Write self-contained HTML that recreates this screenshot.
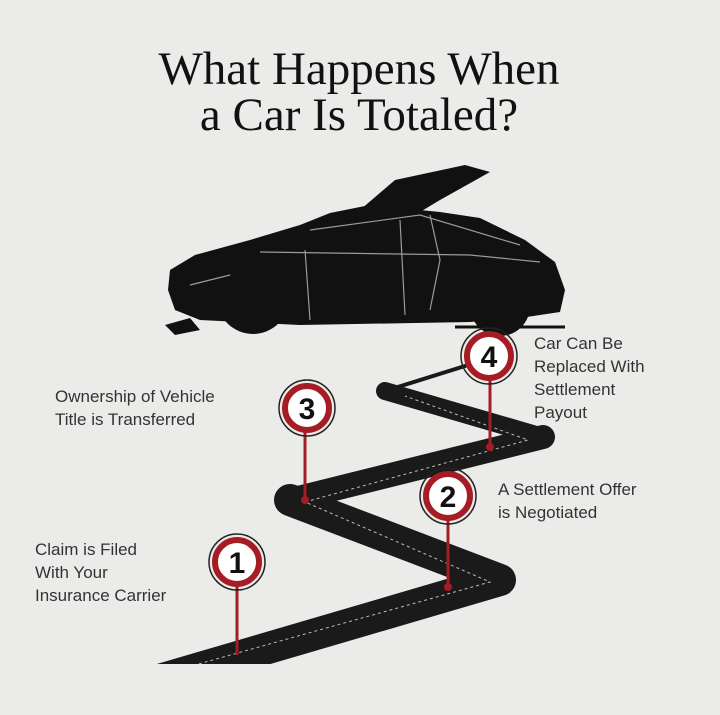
<!DOCTYPE html>
<html><head><meta charset="utf-8"><style>
html,body{margin:0;padding:0;background:#ebebea;}
svg{display:block}
</style></head><body>
<svg width="720" height="715" viewBox="0 0 720 715" xmlns="http://www.w3.org/2000/svg">
<defs><clipPath id="c"><rect x="0" y="0" width="720" height="664"/></clipPath></defs>
<rect width="720" height="715" fill="#ebebea"/>
<text x="359" y="84" text-anchor="middle" font-family="Liberation Serif, serif" font-size="47" fill="#111">What Happens When</text>
<text x="359" y="130" text-anchor="middle" font-family="Liberation Serif, serif" font-size="47" fill="#111">a Car Is Totaled?</text>
<!-- car -->
<g fill="#111">
<path d="M360 210 L395 180 L465 165 L490 172 L440 200 L415 215 Z"/>
<path d="M170 270 L195 255 L250 240 L300 225 L330 213 L370 205 L440 212 L480 218 L525 240 L555 262 L565 290 L560 312 L520 318 L470 322 L300 325 L200 320 L175 310 L168 290 Z"/>
<circle cx="253" cy="298" r="36"/>
<circle cx="500" cy="306" r="30"/>
<path d="M165 325 L190 318 L200 330 L175 335 Z"/>
</g>
<g fill="none" stroke="#9a9a9a" stroke-width="1.2">
<path d="M310 230 L420 215 L520 245"/>
<path d="M305 250 L310 320"/>
<path d="M400 220 L405 315"/>
<path d="M430 215 L440 260 L430 310"/>
<path d="M190 285 L230 275"/>
<path d="M260 252 L470 255 L540 262"/>
</g>
<line x1="455" y1="327" x2="565" y2="327" stroke="#111" stroke-width="3"/>
<!-- road -->
<g fill="none" stroke="#1a1a1a" stroke-linejoin="round" stroke-linecap="round" clip-path="url(#c)">
<polyline points="125,690 500,580 290,500" stroke-width="32"/>
<polyline points="290,500 543,437" stroke-width="24"/>
<polyline points="543,437 385,391" stroke-width="18"/>
<polyline points="385,391 465,366" stroke-width="4"/>
</g>
<g fill="none" stroke="#bbb" stroke-width="1" stroke-dasharray="3,3" clip-path="url(#c)">
<polyline points="170,672 490,582 305,502 528,440 405,396"/>
</g>
<!-- pins -->
<g stroke="#a51c24" stroke-width="3">
<line x1="237" y1="580" x2="237" y2="655"/>
<line x1="448" y1="515" x2="448" y2="587"/>
<line x1="305" y1="428" x2="305" y2="500"/>
<line x1="490" y1="375" x2="490" y2="447"/>
</g>
<g fill="#a51c24"><circle cx="448" cy="587" r="4"/><circle cx="305" cy="500" r="4"/><circle cx="490" cy="447" r="4"/></g>
<g font-family="Liberation Sans, sans-serif" font-weight="bold" font-size="30" text-anchor="middle">
<g><circle cx="237" cy="562" r="28" fill="none" stroke="#222" stroke-width="1.5"/><circle cx="237" cy="562" r="22" fill="#fff" stroke="#a51c24" stroke-width="6"/><text x="237" y="573" fill="#111">1</text></g>
<g><circle cx="448" cy="496" r="28" fill="none" stroke="#222" stroke-width="1.5"/><circle cx="448" cy="496" r="22" fill="#fff" stroke="#a51c24" stroke-width="6"/><text x="448" y="507" fill="#111">2</text></g>
<g><circle cx="307" cy="408" r="28" fill="none" stroke="#222" stroke-width="1.5"/><circle cx="307" cy="408" r="22" fill="#fff" stroke="#a51c24" stroke-width="6"/><text x="307" y="419" fill="#111">3</text></g>
<g><circle cx="489" cy="356" r="28" fill="none" stroke="#222" stroke-width="1.5"/><circle cx="489" cy="356" r="22" fill="#fff" stroke="#a51c24" stroke-width="6"/><text x="489" y="367" fill="#111">4</text></g>
</g>
<g font-family="Liberation Sans, sans-serif" font-size="17" fill="#333">
<text x="35" y="555">Claim is Filed</text>
<text x="35" y="578">With Your</text>
<text x="35" y="601">Insurance Carrier</text>
<text x="498" y="495">A Settlement Offer</text>
<text x="498" y="518">is Negotiated</text>
<text x="55" y="402">Ownership of Vehicle</text>
<text x="55" y="425">Title is Transferred</text>
<text x="534" y="349">Car Can Be</text>
<text x="534" y="372">Replaced With</text>
<text x="534" y="395">Settlement</text>
<text x="534" y="418">Payout</text>
</g>
</svg>
</body></html>
